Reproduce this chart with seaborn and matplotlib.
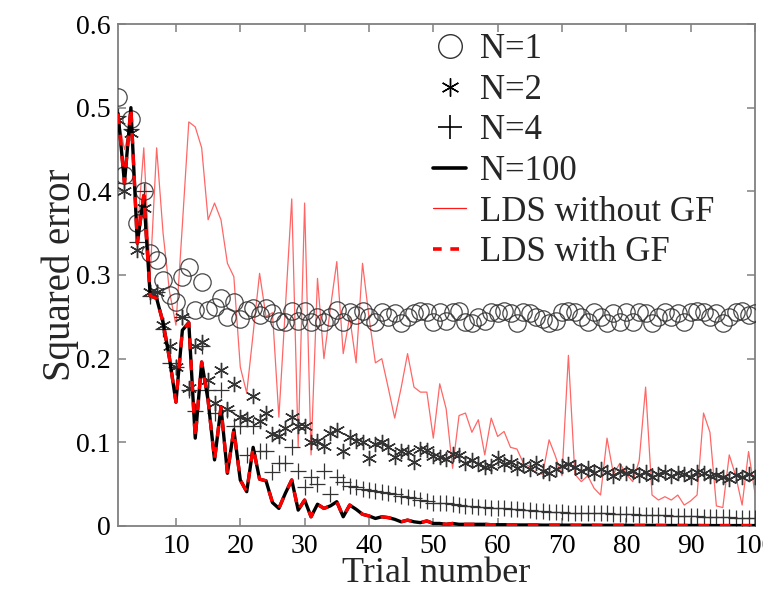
import numpy as np
import pandas as pd
import matplotlib
matplotlib.use("Agg")
import matplotlib.pyplot as plt
import matplotlib.ticker as mticker
from matplotlib.lines import Line2D
import seaborn as sns

trials = list(range(1, 101))

n1 = [0.513, 0.419, 0.487, 0.362, 0.400, 0.326, 0.318, 0.294, 0.276, 0.268,
      0.298, 0.310, 0.258, 0.292, 0.258, 0.262, 0.272, 0.250, 0.268, 0.248,
      0.258, 0.260, 0.252, 0.260, 0.255, 0.245, 0.244, 0.257, 0.245, 0.257,
      0.244, 0.250, 0.244, 0.250, 0.258, 0.244, 0.256, 0.252, 0.257, 0.250,
      0.244, 0.256, 0.250, 0.255, 0.243, 0.250, 0.255, 0.257, 0.256, 0.244,
      0.256, 0.245, 0.256, 0.257, 0.244, 0.243, 0.250, 0.245, 0.256, 0.255,
      0.257, 0.255, 0.243, 0.256, 0.255, 0.250, 0.248, 0.243, 0.245, 0.256,
      0.257, 0.256, 0.250, 0.244, 0.256, 0.250, 0.243, 0.255, 0.244, 0.256,
      0.244, 0.256, 0.255, 0.243, 0.250, 0.256, 0.250, 0.255, 0.244, 0.256,
      0.257, 0.256, 0.250, 0.255, 0.243, 0.250, 0.256, 0.257, 0.252, 0.255]

n2 = [0.485, 0.400, 0.470, 0.330, 0.380, 0.280, 0.280, 0.240, 0.215, 0.190,
      0.250, 0.165, 0.215, 0.220, 0.175, 0.147, 0.186, 0.140, 0.170, 0.130,
      0.128, 0.155, 0.125, 0.135, 0.110, 0.108, 0.117, 0.130, 0.120, 0.119,
      0.100, 0.102, 0.096, 0.111, 0.115, 0.090, 0.106, 0.102, 0.100, 0.081,
      0.098, 0.100, 0.094, 0.083, 0.090, 0.088, 0.076, 0.092, 0.091, 0.084,
      0.082, 0.080, 0.086, 0.085, 0.075, 0.079, 0.074, 0.070, 0.072, 0.081,
      0.074, 0.076, 0.069, 0.073, 0.068, 0.075, 0.066, 0.063, 0.068, 0.072,
      0.074, 0.071, 0.066, 0.069, 0.063, 0.068, 0.064, 0.060, 0.066, 0.063,
      0.066, 0.061, 0.064, 0.059, 0.062, 0.065, 0.060, 0.063, 0.062, 0.058,
      0.064, 0.063, 0.060, 0.061, 0.059, 0.056, 0.061, 0.058, 0.062, 0.058]

n4 = [0.490, 0.410, 0.475, 0.340, 0.400, 0.275, 0.280, 0.235, 0.195, 0.190,
      0.250, 0.163, 0.137, 0.215, 0.163, 0.135, 0.163, 0.139, 0.120, 0.120,
      0.085, 0.120, 0.090, 0.090, 0.065, 0.075, 0.075, 0.095, 0.066, 0.047,
      0.058, 0.050, 0.066, 0.038, 0.058, 0.052, 0.048, 0.047, 0.044, 0.043,
      0.042, 0.041, 0.040, 0.038, 0.036, 0.035, 0.033, 0.031, 0.030, 0.028,
      0.027, 0.027, 0.026, 0.025, 0.024, 0.024, 0.023, 0.023, 0.022, 0.021,
      0.021, 0.020, 0.020, 0.019, 0.019, 0.018, 0.018, 0.017, 0.017, 0.017,
      0.016, 0.016, 0.016, 0.016, 0.015, 0.015, 0.015, 0.014, 0.014, 0.014,
      0.014, 0.013, 0.013, 0.013, 0.013, 0.013, 0.012, 0.012, 0.012, 0.012,
      0.012, 0.011, 0.011, 0.011, 0.011, 0.011, 0.010, 0.010, 0.010, 0.010]

n100 = [0.493, 0.410, 0.500, 0.338, 0.395, 0.275, 0.272, 0.243, 0.200, 0.148,
        0.234, 0.243, 0.105, 0.196, 0.150, 0.079, 0.142, 0.063, 0.115, 0.055,
        0.041, 0.094, 0.056, 0.054, 0.028, 0.021, 0.039, 0.055, 0.019, 0.031,
        0.011, 0.026, 0.021, 0.024, 0.029, 0.011, 0.025, 0.020, 0.014, 0.012,
        0.009, 0.011, 0.010, 0.008, 0.005, 0.007, 0.005, 0.004, 0.006, 0.003,
        0.003, 0.002, 0.003, 0.002, 0.002, 0.002, 0.002, 0.002, 0.0015, 0.0015,
        0.0015, 0.0015, 0.0012, 0.0012, 0.0012, 0.0012, 0.0010, 0.0010, 0.0010, 0.0010,
        0.0010, 0.0009, 0.0009, 0.0009, 0.0009, 0.0008, 0.0008, 0.0008, 0.0008, 0.0008,
        0.0007, 0.0007, 0.0007, 0.0007, 0.0007, 0.0006, 0.0006, 0.0006, 0.0006, 0.0006,
        0.0006, 0.0005, 0.0005, 0.0005, 0.0005, 0.0005, 0.0005, 0.0005, 0.0005, 0.0005]

lds_no_gf = [0.490, 0.450, 0.480, 0.350, 0.452, 0.300, 0.452, 0.350, 0.280, 0.240,
             0.360, 0.483, 0.477, 0.452, 0.366, 0.386, 0.366, 0.314, 0.298, 0.190,
             0.159, 0.230, 0.302, 0.250, 0.255, 0.130, 0.260, 0.391, 0.095, 0.386,
             0.085, 0.296, 0.200, 0.260, 0.316, 0.206, 0.250, 0.195, 0.314, 0.250,
             0.195, 0.200, 0.165, 0.129, 0.165, 0.206, 0.166, 0.160, 0.160, 0.105,
             0.170, 0.140, 0.069, 0.132, 0.135, 0.112, 0.127, 0.085, 0.129, 0.107,
             0.113, 0.094, 0.092, 0.075, 0.071, 0.063, 0.062, 0.103, 0.083, 0.060,
             0.204, 0.062, 0.053, 0.060, 0.045, 0.037, 0.105, 0.062, 0.075, 0.062,
             0.053, 0.078, 0.166, 0.037, 0.031, 0.035, 0.031, 0.037, 0.025, 0.030,
             0.037, 0.135, 0.112, 0.024, 0.022, 0.085, 0.060, 0.025, 0.089, 0.039]

lds_gf = [0.493, 0.410, 0.500, 0.338, 0.395, 0.275, 0.272, 0.243, 0.200, 0.148,
          0.234, 0.243, 0.105, 0.196, 0.150, 0.079, 0.142, 0.063, 0.115, 0.055,
          0.041, 0.094, 0.056, 0.054, 0.028, 0.021, 0.039, 0.055, 0.019, 0.031,
          0.011, 0.026, 0.021, 0.024, 0.029, 0.011, 0.025, 0.020, 0.014, 0.012,
          0.009, 0.011, 0.010, 0.008, 0.005, 0.007, 0.005, 0.004, 0.006, 0.003,
          0.003, 0.002, 0.003, 0.002, 0.002, 0.002, 0.002, 0.002, 0.0015, 0.0015,
          0.0015, 0.0015, 0.0012, 0.0012, 0.0012, 0.0012, 0.0010, 0.0010, 0.0010, 0.0010,
          0.0010, 0.0009, 0.0009, 0.0009, 0.0009, 0.0008, 0.0008, 0.0008, 0.0008, 0.0008,
          0.0007, 0.0007, 0.0007, 0.0007, 0.0007, 0.0006, 0.0006, 0.0006, 0.0006, 0.0006,
          0.0006, 0.0005, 0.0005, 0.0005, 0.0005, 0.0005, 0.0005, 0.0005, 0.0005, 0.0005]

labels = ["N=1", "N=2", "N=4", "N=100", "LDS without GF", "LDS with GF"]
x_ticks = [10, 20, 30, 40, 50, 60, 70, 80, 90, 100]
y_ticks = [0, 0.1, 0.2, 0.3, 0.4, 0.5, 0.6]

sns.set_style("ticks")
plt.rcParams["font.family"] = ["Liberation Serif", "DejaVu Serif"]

fig = plt.figure(figsize=(7.63, 5.9), dpi=100)
ax = fig.add_axes([0.1547, 0.1085, 0.8348, 0.8508])

df = pd.DataFrame({"trial": trials, "n1": n1, "n2": n2, "n4": n4,
                   "n100": n100, "lds_no": lds_no_gf, "lds_gf": lds_gf})

mk_col = "#333333"
red = "#ff0000"

sns.lineplot(data=df, x="trial", y="lds_no", ax=ax, color=red, lw=0.9,
             alpha=0.6, zorder=2, label=labels[4])
sns.lineplot(data=df, x="trial", y="n1", ax=ax, ls="none", marker="o",
             ms=12.5, mfc="none", mec=mk_col, mew=0.9, alpha=0.9, zorder=3,
             label=labels[0])
sns.lineplot(data=df, x="trial", y="n2", ax=ax, ls="none", marker=(6, 2, 0),
             ms=11, mec=mk_col, mew=1.0, zorder=3, label=labels[1])
sns.lineplot(data=df, x="trial", y="n4", ax=ax, ls="none", marker="+",
             ms=12, mec=mk_col, mew=0.9, zorder=3, label=labels[2])
sns.lineplot(data=df, x="trial", y="n100", ax=ax, color="black", lw=2.4,
             zorder=4, label=labels[3])
sns.lineplot(data=df, x="trial", y="lds_gf", ax=ax, color=red, lw=2.4,
             ls=(0, (3.2, 3.2)), zorder=5, label=labels[5])

ax.set_xlim(1, 100)
ax.set_ylim(0, 0.6)
ax.set_xticks(x_ticks)
ax.set_yticks(y_ticks)
ax.yaxis.set_major_formatter(mticker.FuncFormatter(lambda v, p: "0" if v == 0 else f"{v:g}"))

for s in ax.spines.values():
    s.set_visible(True)
    s.set_color("#808080")
    s.set_linewidth(1.3)
ax.tick_params(axis="both", which="both", direction="in", length=6, width=1.1,
               color="#808080", top=True, right=True, labelsize=20, pad=5,
               labelcolor="black")
ax.tick_params(axis="x", pad=6)

ax.set_xlabel("Trial number", fontsize=26, labelpad=-1.5)
ax.set_ylabel("Squared error", fontsize=28, labelpad=-2)

handles = [
    Line2D([], [], ls="none", marker="o", ms=17, mfc="none", mec=mk_col, mew=1.0),
    Line2D([], [], ls="none", marker=(6, 2, 0), ms=13, color="black", mew=1.0),
    Line2D([], [], ls="none", marker="+", ms=17, color="black", mew=1.2),
    Line2D([], [], color="black", lw=2.6),
    Line2D([], [], color=red, lw=0.9, alpha=0.9),
    Line2D([], [], color=red, lw=2.6, ls=(0, (2.4, 2.4))),
]
leg = ax.legend(handles, labels, loc="upper left",
                bbox_to_anchor=(0.568, 0.944), bbox_transform=fig.transFigure,
                frameon=False, fontsize=25, handlelength=0.95,
                handletextpad=0.4, labelspacing=0.22, borderpad=0,
                borderaxespad=0)

fig.savefig("out.png", dpi=100)
